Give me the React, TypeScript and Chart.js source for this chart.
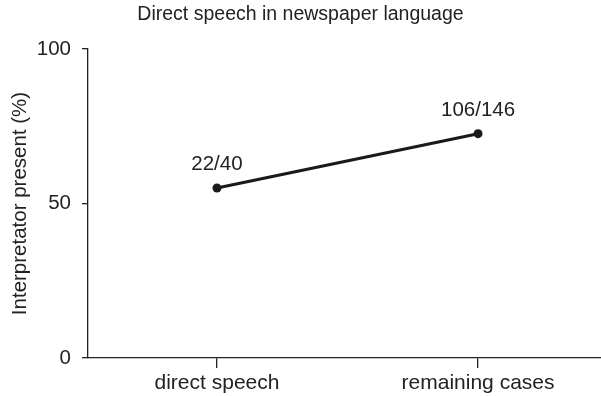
import React, { useEffect, useRef } from "react";
import { Chart, registerables } from "chart.js";

Chart.register(...registerables);

const categories = ["direct speech", "remaining cases"];
const presentCounts = [22, 106];
const totalCounts = [40, 146];
const yTicks = [0, 50, 100];
const titleText = "Direct speech in newspaper language";
const yTitle = "Interpretator present (%)";

const INK = "#222222";
const FONT = "'Liberation Sans', Arial, Helvetica, sans-serif";

const labelPlugin = {
  id: "fractionLabels",
  afterDatasetsDraw(chart: any) {
    const meta = chart.getDatasetMeta(0);
    const ctx = chart.ctx;
    ctx.save();
    ctx.fillStyle = INK;
    ctx.font = `20.5px ${FONT}`;
    ctx.textAlign = "center";
    ctx.textBaseline = "alphabetic";
    meta.data.forEach((pt: any, i: number) => {
      ctx.fillText(`${presentCounts[i]}/${totalCounts[i]}`, pt.x, pt.y - 18);
    });
    ctx.restore();
  },
};

export default function App() {
  const ref = useRef<HTMLCanvasElement | null>(null);

  useEffect(() => {
    if (!ref.current) return;
    const points = categories.map((_, i) => ({
      x: i,
      y: (100 * presentCounts[i]) / totalCounts[i],
    }));
    const chart = new Chart(ref.current, {
      type: "line",
      data: {
        datasets: [
          {
            data: points,
            borderColor: "#1a1a1a",
            backgroundColor: "#1a1a1a",
            borderWidth: 3,
            pointRadius: 4.5,
            pointBackgroundColor: "#1a1a1a",
            pointBorderWidth: 0,
            tension: 0,
            clip: false as any,
          },
        ],
      },
      options: {
        responsive: false,
        animation: false,
        layout: { padding: 0, autoPadding: false },
        plugins: {
          legend: { display: false },
          tooltip: { enabled: false },
          title: {
            display: true,
            text: titleText,
            color: INK,
            font: { family: FONT, size: 19.5, weight: "normal" },
            padding: { top: 3, bottom: 22.6 },
          },
        },
        scales: {
          x: {
            type: "linear",
            min: -0.494,
            max: 1.471,
            afterBuildTicks: (scale: any) => {
              scale.ticks = categories.map((_, i) => ({ value: i }));
            },
            afterFit: (scale: any) => {
              scale.height = 38;
            },
            ticks: {
              color: INK,
              font: { family: FONT, size: 21 },
              padding: 3,
              maxRotation: 0,
              callback: (v: any) => categories[v as number] ?? "",
            },
            grid: {
              drawOnChartArea: false,
              drawTicks: true,
              tickLength: 10,
              color: INK,
              lineWidth: 1.3,
            },
            border: { display: true, color: INK, width: 1.3 },
          },
          y: {
            min: 0,
            max: 100,
            afterBuildTicks: (scale: any) => {
              scale.ticks = yTicks.map((v) => ({ value: v }));
            },
            afterFit: (scale: any) => {
              scale.width = 88;
            },
            ticks: {
              color: INK,
              font: { family: FONT, size: 20.5 },
              padding: 11,
            },
            grid: {
              drawOnChartArea: false,
              drawTicks: true,
              tickLength: 6,
              color: INK,
              lineWidth: 1.3,
            },
            border: { display: true, color: INK, width: 1.3 },
            title: {
              display: true,
              text: yTitle,
              color: INK,
              font: { family: FONT, size: 20.5 },
              padding: { top: 8, bottom: 0 },
            },
          },
        },
      },
      plugins: [labelPlugin],
    });
    return () => chart.destroy();
  }, []);

  return (
    <div style={{ position: "fixed", left: 0, top: 0, width: 601, height: 396, background: "#fff" }}>
      <canvas ref={ref} width={601} height={396} style={{ display: "block" }} />
    </div>
  );
}
